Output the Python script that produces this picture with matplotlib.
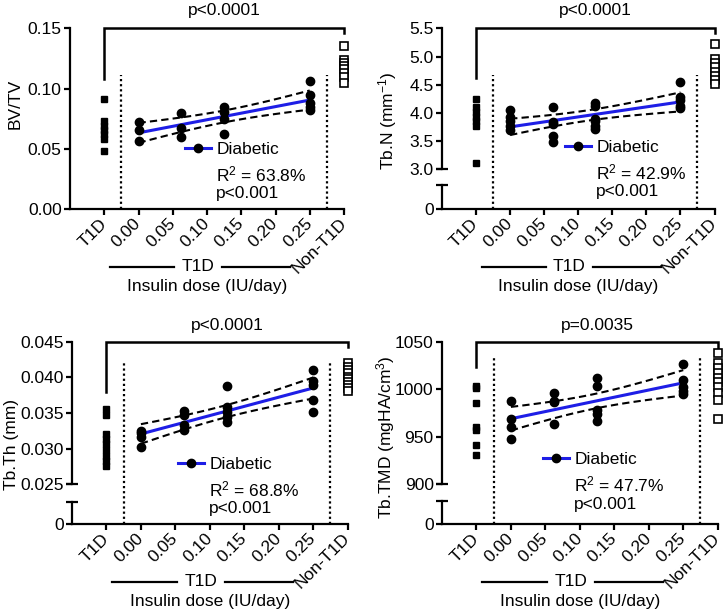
import numpy as np
import matplotlib
matplotlib.use('Agg')
import matplotlib.pyplot as plt
import matplotlib.transforms as mtransforms
from matplotlib.lines import Line2D

plt.rcParams['font.family'] = ['Liberation Sans', 'DejaVu Sans']
plt.rcParams['mathtext.fontset'] = 'custom'
plt.rcParams['mathtext.rm'] = 'Liberation Sans'
plt.rcParams['mathtext.it'] = 'Liberation Sans:italic'
plt.rcParams['font.size'] = 12.5

# x layout: T1D group, insulin doses, non-T1D group
x_t1d = -0.05
x_non = 0.30
xticks = [-0.05, 0.00, 0.05, 0.10, 0.15, 0.20, 0.25, 0.30]
xticklabels = ['T1D', '0.00', '0.05', '0.10', '0.15', '0.20', '0.25', 'Non-T1D']

# BV/TV
bv_t1d = [0.091, 0.073, 0.069, 0.066, 0.062, 0.058, 0.048]
bv_non = [0.135, 0.124, 0.121, 0.119, 0.116, 0.113, 0.110, 0.105]
bv_dose = [0, 0, 0, 0.0625, 0.0625, 0.0625, 0.125, 0.125, 0.125, 0.125,
           0.25, 0.25, 0.25, 0.25, 0.25]
bv_val = [0.072, 0.066, 0.057, 0.080, 0.067, 0.060, 0.085, 0.081, 0.075, 0.062,
          0.106, 0.095, 0.088, 0.085, 0.082]

# Tb.N
tbn_t1d = [4.25, 4.10, 4.02, 3.93, 3.85, 3.77, 3.11]
tbn_non = [5.23, 4.95, 4.88, 4.81, 4.73, 4.66, 4.58, 4.51]
tbn_dose = [0] * 5 + [0.0625] * 5 + [0.125] * 6 + [0.25] * 5
tbn_val = [4.06, 3.92, 3.85, 3.77, 3.70,
           4.10, 3.83, 3.80, 3.59, 3.48,
           4.18, 4.12, 3.90, 3.85, 3.77, 3.71,
           4.55, 4.28, 4.23, 4.12, 4.08]

# Tb.Th
tbth_t1d = [0.0355, 0.0347, 0.0321, 0.0314, 0.0306, 0.0298, 0.0290, 0.0283, 0.0276]
tbth_non = [0.0420, 0.0415, 0.0411, 0.0406, 0.0401, 0.0397, 0.0393, 0.0389, 0.0385, 0.0381]
tbth_dose = [0] * 4 + [0.0625] * 4 + [0.125] * 5 + [0.25] * 5
tbth_val = [0.0325, 0.0322, 0.0316, 0.0303,
            0.0353, 0.0347, 0.0333, 0.0326,
            0.0388, 0.0358, 0.0352, 0.0344, 0.0337,
            0.0411, 0.0395, 0.0389, 0.0368, 0.0352]

# Tb.TMD
tmd_t1d = [1003, 1001, 985, 960, 957, 941, 931]
tmd_non = [1038, 1028, 1022, 1017, 1012, 1007, 1002, 996, 989, 968]
tmd_dose = [0] * 4 + [0.0625] * 4 + [0.125] * 5 + [0.25] * 5
tmd_val = [988, 968, 960, 947,
           996, 988, 986, 963,
           1012, 1003, 978, 974, 966,
           1026, 1010, 1002, 998, 995]

BLUE = '#1e1ee6'
T95 = {13: 2.160, 14: 2.145, 15: 2.131, 16: 2.120, 17: 2.110, 18: 2.101, 19: 2.093}

W, H = 725, 614
fig = plt.figure(figsize=(W / 100, H / 100), dpi=100)


def add_ax(left, top, right, bottom):
    ax = fig.add_axes([left / W, 1 - bottom / H, (right - left) / W, (bottom - top) / H])
    for s in ['top', 'right']:
        ax.spines[s].set_visible(False)
    for s in ['left', 'bottom']:
        ax.spines[s].set_linewidth(1.6)
    ax.tick_params(width=1.6, length=4.5, pad=1.5)
    ax.set_xlim(-0.1, 0.3)
    ax.patch.set_visible(False)
    return ax


def cap(ax, y):
    ax.plot([0], [y], marker='_', ms=8.5, mew=1.6, color='k',
            transform=ax.get_yaxis_transform(), clip_on=False)


def panel(box, ylim, yticks, fmt, dose, vals, t1d, non, arms, dot_top,
          title, title_y, ylabel, ylab_xy, leg_xy, r2, row_y, brk=None):
    left, top, right, bottom = box
    if brk is None:
        ax = add_ax(left, top, right, bottom)
        lo = ax
        y_zero = 0
    else:
        ax = add_ax(left, top, right, brk[0])
        lo = add_ax(left, brk[1], right, bottom)
        ax.spines['bottom'].set_visible(False)
        ax.tick_params(axis='x', bottom=False, labelbottom=False)
        lo.set_ylim(0, 1)
        lo.set_yticks([0])
        lo.set_yticklabels(['0'])
        cap(ax, ylim[0])
        cap(lo, 1)
    ax.set_ylim(*ylim)
    ax.set_yticks(yticks)
    ax.set_yticklabels([fmt % v for v in yticks])
    if brk is not None:
        yd = lo.transData.transform((0, 0))[1]
        y_zero = ax.transData.inverted().transform((0, yd))[1]

    lo.set_xticks(xticks)
    lo.set_xticklabels(xticklabels, rotation=45, ha='right', va='center',
                       rotation_mode='anchor')
    lo.tick_params(axis='x', pad=4)

    # dotted separators
    ax.vlines([-0.025, 0.275], y_zero, dot_top, colors='k', lw=1.6,
              linestyles=(0, (1, 1.3)), clip_on=False)

    # groups
    ax.plot([x_t1d] * len(t1d), t1d, 's', color='k', ms=5, clip_on=False, zorder=5)
    ax.plot([x_non] * len(non), non, 's', mfc='white', mec='k', mew=1.2, ms=5.5,
            clip_on=False, zorder=5)

    # regression with 95% CI
    x = np.asarray(dose, float)
    y = np.asarray(vals, float)
    b, a = np.polyfit(x, y, 1)
    xx = np.linspace(0, 0.25, 60)
    yy = a + b * xx
    n = len(x)
    s = np.sqrt(np.sum((y - (a + b * x)) ** 2) / (n - 2))
    se = s * np.sqrt(1 / n + (xx - x.mean()) ** 2 / np.sum((x - x.mean()) ** 2))
    t = T95[n - 2]
    ax.plot(xx, yy + t * se, color='k', lw=1.5, dashes=(3.5, 2), zorder=3)
    ax.plot(xx, yy - t * se, color='k', lw=1.5, dashes=(3.5, 2), zorder=3)
    ax.plot(xx, yy, color=BLUE, lw=2.2, zorder=4)
    ax.plot(x, y, 'o', color='k', ms=6, zorder=5, clip_on=False)

    # bracket + p value
    ax.plot([x_t1d, x_t1d, x_non, x_non], [arms[0], ylim[1], ylim[1], arms[1]],
            color='k', lw=1.8, clip_on=False, solid_joinstyle='miter')
    tr = mtransforms.blended_transform_factory(ax.transData, fig.transFigure)
    ax.text((x_t1d + x_non) / 2, 1 - title_y / H, title, transform=tr,
            ha='center', va='baseline')

    # y label
    fig.text(ylab_xy[0] / W, 1 - ylab_xy[1] / H, ylabel, rotation=90,
             ha='center', va='center')

    # legend + stats
    h = Line2D([], [], color=BLUE, lw=2.2, marker='o', mfc='k', mec='k', ms=6)
    fig.legend([h], ['Diabetic'], loc='center left',
               bbox_to_anchor=(leg_xy[0] / W, 1 - leg_xy[1] / H),
               frameon=False, borderpad=0, borderaxespad=0,
               handlelength=1.5, handletextpad=0.3, numpoints=1)
    tx = leg_xy[0] + 31
    fig.text(tx / W, 1 - (leg_xy[1] + 25) / H, 'R$^2$ = ' + r2, va='center')
    fig.text(tx / W, 1 - (leg_xy[1] + 45) / H, 'p<0.001', va='center')

    # T1D group line and x label
    tr2 = mtransforms.blended_transform_factory(lo.transData, fig.transFigure)
    yl = 1 - row_y / H
    lo.plot([-0.042, 0.052], [yl, yl], color='k', lw=1.6, transform=tr2, clip_on=False)
    lo.plot([0.122, 0.221], [yl, yl], color='k', lw=1.6, transform=tr2, clip_on=False)
    lo.text(0.087, yl, 'T1D', transform=tr2, ha='center', va='center')
    lo.text(0.1, yl - 20 / H, 'Insulin dose (IU/day)', transform=tr2,
            ha='center', va='center')


panel((70, 28.3, 344, 209.3), (0, 0.15), [0, 0.05, 0.10, 0.15], '%.2f',
      bv_dose, bv_val, bv_t1d, bv_non, (0.108, 0.146), 0.111,
      'p<0.0001', 15.5, 'BV/TV', (15.5, 104), (185, 149), '63.8%', 266.5)

panel((442, 28.3, 714.5, 209.3), (3.0, 5.5), [3.0, 3.5, 4.0, 4.5, 5.0, 5.5], '%.1f',
      tbn_dose, tbn_val, tbn_t1d, tbn_non, (4.61, 5.41), 4.67,
      'p<0.0001', 15.5, 'Tb.N (mm$^{-1}$)', (388, 121), (565, 147), '42.9%', 266.5,
      brk=(169.3, 185))

panel((72, 341.7, 347.7, 524.3), (0.025, 0.045), [0.025, 0.030, 0.035, 0.040, 0.045],
      '%.3f', tbth_dose, tbth_val, tbth_t1d, tbth_non, (0.0379, 0.0442), 0.0422,
      'p<0.0001', 330, 'Tb.Th (mm)', (12, 444), (178, 464), '68.8%', 581.5,
      brk=(484.3, 501.7))

panel((442, 341.7, 717.7, 524.3), (900, 1050), [900, 950, 1000, 1050], '%d',
      tmd_dose, tmd_val, tmd_t1d, tmd_non, (1023.7, 1043.7), 1035,
      'p=0.0035', 330, 'Tb.TMD (mgHA/cm$^3$)', (386, 437), (543, 459), '47.7%', 581.5,
      brk=(484, 501))

fig.savefig('out.png', dpi=100)
